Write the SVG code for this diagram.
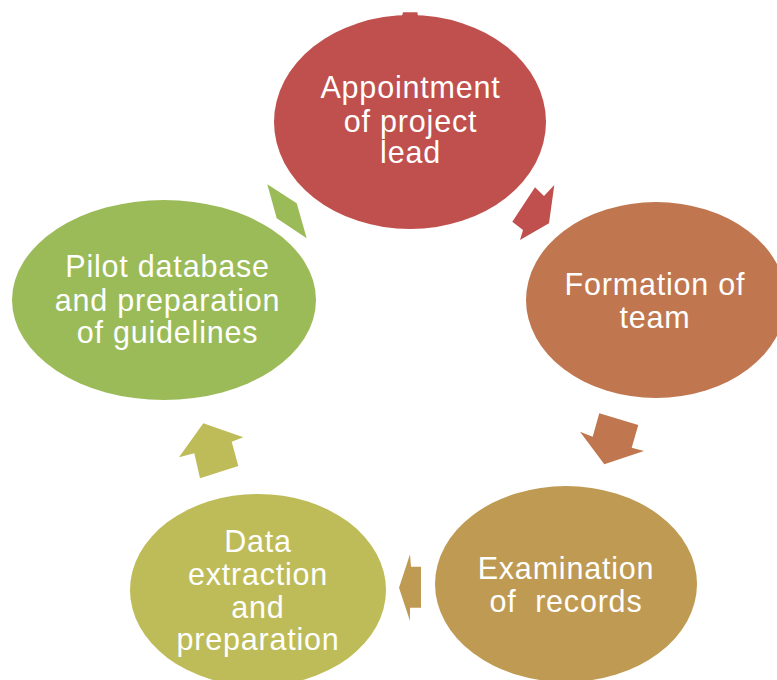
<svg xmlns="http://www.w3.org/2000/svg" width="777" height="680" viewBox="0 0 777 680">
  <style>
    .lbl { font-family: "Liberation Sans", Arial, sans-serif; font-size: 30.5px; letter-spacing: 0.8px; fill: #FFFFFF; text-anchor: middle; }
    .red { fill: #C0504D; }
    .orange { fill: #C0774F; }
    .gold { fill: #BF9A52; }
    .olive { fill: #BEBC58; }
    .green { fill: #9BBB59; }
  </style>
  <rect width="777" height="680" fill="#FFFFFF"/>

  <!-- cycle connectors -->
  <g id="connectors">
    <polygon class="red" points="403,12.3 417.3,12.3 418,16 402,16"/>
    <polygon class="red" points="535,187.3 544,196 554.3,185 549,223.3 520,240 523,230 512.3,221.7"/>
    <polygon class="orange" points="599.3,413.3 638.3,425 631.7,447.7 644,451 604.3,464.3 580,431.7 592.7,436.7"/>
    <polygon class="gold" points="399,587.7 410,554.3 411,566.7 421,566.7 421,607.7 410,607.7 410,621"/>
    <polygon class="olive" points="203.3,423.3 243.3,437.3 231.7,441.7 238.3,466 200,478.3 194.3,453.3 179,457.3"/>
    <polygon class="green" points="267.3,184.3 296.7,203.3 306.7,238.3 276.7,218.3"/>
  </g>

  <g id="node-appointment">
    <ellipse class="red" cx="410" cy="122" rx="136" ry="107"/>
    <text class="lbl" x="410.5" y="98.3">Appointment</text>
    <text class="lbl" x="410.5" y="131.7">of project</text>
    <text class="lbl" x="410.5" y="163">lead</text>
  </g>

  <g id="node-formation">
    <ellipse class="orange" cx="656" cy="300" rx="130" ry="98"/>
    <text class="lbl" x="655" y="295">Formation of</text>
    <text class="lbl" x="655" y="328">team</text>
  </g>

  <g id="node-examination">
    <ellipse class="gold" cx="566" cy="584" rx="131" ry="98"/>
    <text class="lbl" x="566" y="579">Examination</text>
    <text class="lbl" x="566" y="612" xml:space="preserve">of  records</text>
  </g>

  <g id="node-extraction">
    <ellipse class="olive" cx="258" cy="590" rx="128" ry="96"/>
    <text class="lbl" x="258" y="552">Data</text>
    <text class="lbl" x="258" y="585">extraction</text>
    <text class="lbl" x="258" y="618">and</text>
    <text class="lbl" x="258" y="650">preparation</text>
  </g>

  <g id="node-pilot">
    <ellipse class="green" cx="164" cy="300" rx="152" ry="100"/>
    <text class="lbl" x="167.5" y="277.3">Pilot database</text>
    <text class="lbl" x="167.5" y="310.5">and preparation</text>
    <text class="lbl" x="167.5" y="343">of guidelines</text>
  </g>
</svg>
